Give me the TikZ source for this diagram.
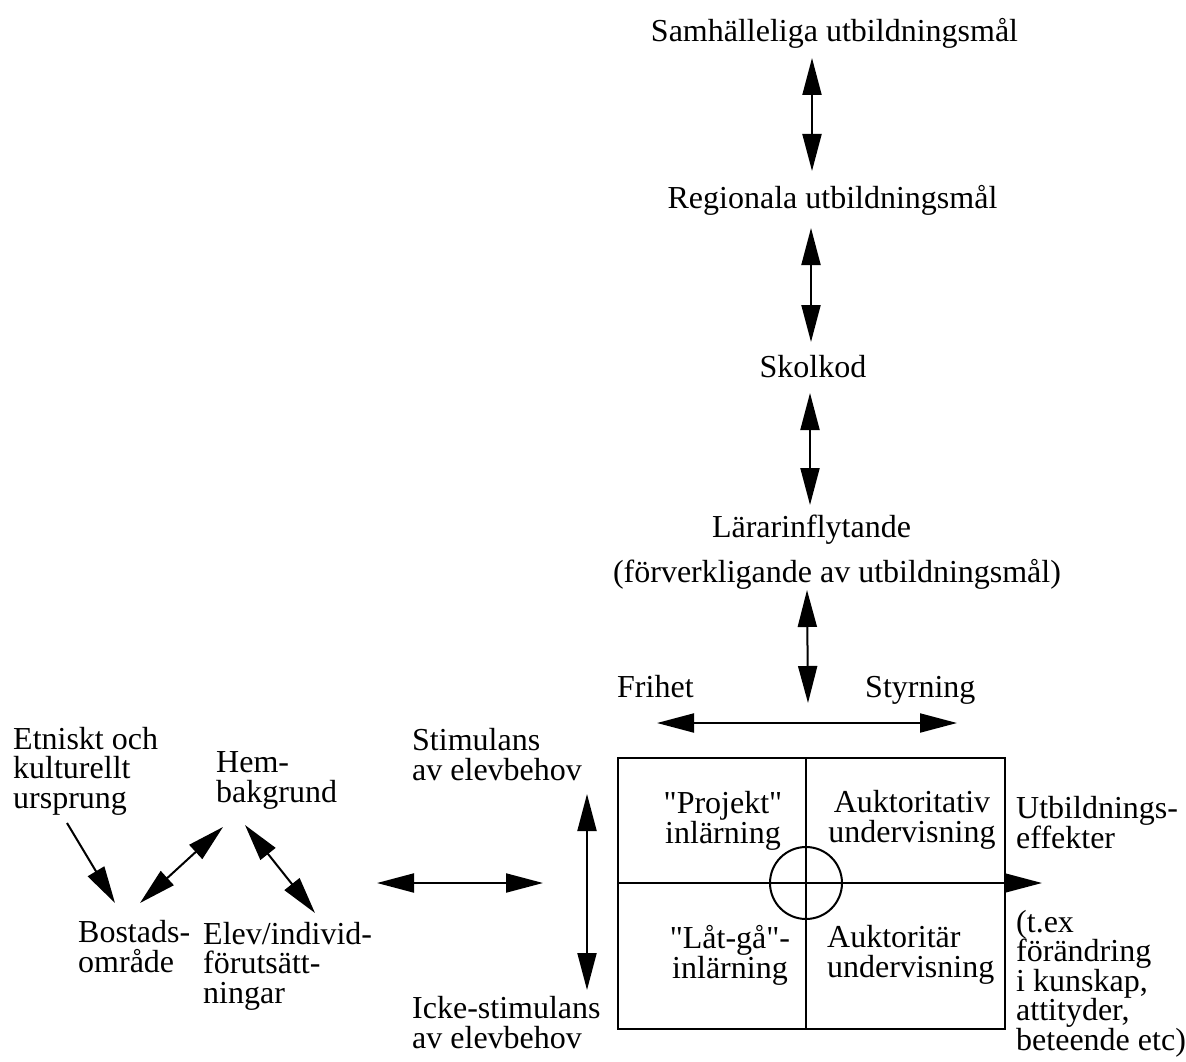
\documentclass[tikz,border=0pt]{standalone}
\usepackage{fontspec}
\newfontfamily\mainf{Liberation Serif}
\usetikzlibrary{arrows.meta}
\begin{document}
\begin{tikzpicture}[x=1pt,y=-1pt,
  txt/.style={inner sep=0pt, font=\mainf\fontsize{32}{29.5}\selectfont},
  arr/.style={-{Triangle[length=37pt,width=19pt]}, line width=2pt},
  darr/.style={{Triangle[length=37pt,width=19pt]}-{Triangle[length=37pt,width=19pt]}, line width=2pt},
  frame/.style={line width=2pt}]
\useasboundingbox (0,0) rectangle (1186,1062);
% top column
\node[txt,anchor=base] (sam) at (834.5,42) {Samhälleliga utbildningsmål};
\node[txt,anchor=base] (reg) at (832.5,208) {Regionala utbildningsmål};
\node[txt,anchor=base] (sko) at (813,377) {Skolkod};
\node[txt,anchor=base] (lar) at (811.5,537) {Lärarinflytande};
\node[txt,anchor=base] (forv) at (837,582) {(förverkligande av utbildningsmål)};
\node[txt,anchor=base west] (fri) at (617,697) {Frihet};
\node[txt,anchor=base west] (sty) at (865,697) {Styrning};
% box
\node[draw, frame, minimum width=387pt, minimum height=271pt, inner sep=0pt, anchor=north west] (box) at (617,757) {};
\coordinate (c) at (806,883);
\draw[frame] (box.north -| c) -- (box.south -| c);
\draw[frame] (box.west |- c) -- (box.east |- c);
\node[draw, frame, circle, minimum size=72pt, inner sep=0pt] (ring) at (c) {};
\coordinate (out) at (1042,883);
\draw[arr] (box.east |- c) -- (out);
% quadrant texts (base = last line)
\node[txt,anchor=base,align=center] (proj) at (723,843) {"Projekt"\\inlärning};
\node[txt,anchor=base,align=center] (auk1) at (912,842) {Auktoritativ\\undervisning};
\node[txt,anchor=base,align=center] (lat) at (730,978) {"Låt-gå"-\\inlärning};
\node[txt,anchor=base west,align=left] (auk2) at (827,977) {Auktoritär\\undervisning};
% right texts
\node[txt,anchor=base west,align=left] (utb) at (1016,848) {Utbildnings-\\effekter};
\node[txt,anchor=base west,align=left] (tex) at (1016,1050) {(t.ex\\förändring\\i kunskap,\\attityder,\\beteende etc)};
% left texts
\node[txt,anchor=base west,align=left] (etn) at (13,808) {Etniskt och\\kulturellt\\ursprung};
\node[txt,anchor=base west,align=left] (hem) at (216,802) {Hem-\\bakgrund};
\node[txt,anchor=base west,align=left] (bos) at (78,972) {Bostads-\\område};
\node[txt,anchor=base west,align=left] (elev) at (203,1003) {Elev/individ-\\förutsätt-\\ningar};
\node[txt,anchor=base west,align=left] (stim) at (412,780) {Stimulans\\av elevbehov};
\node[txt,anchor=base west,align=left] (icke) at (412,1048) {Icke-stimulans\\av elevbehov};
% connectors
\draw[darr] ([xshift=-22.5pt,yshift=-16pt]sam.base) -- ([xshift=-20.5pt,yshift=37pt]reg.base);
\draw[darr] ([xshift=-21.5pt,yshift=-20pt]reg.base) -- ([xshift=-2pt,yshift=35pt]sko.base);
\draw[darr] ([xshift=-3pt,yshift=-16pt]sko.base) -- ([xshift=-1.5pt,yshift=32pt]lar.base);
\draw[darr] ([xshift=-30pt,yshift=-8pt]forv.base) -- ([xshift=-3.5pt,yshift=54pt]box.north);
\draw[darr] ([xshift=40pt,yshift=-26pt]fri.base west) -- ([xshift=92pt,yshift=-26pt]sty.base west);
\draw[arr] ([xshift=54pt,yshift=-15pt]etn.base west) -- ([xshift=37pt,yshift=69pt]bos.base west);
\draw[darr] ([xshift=62pt,yshift=69pt]bos.base west) -- ([xshift=7pt,yshift=-25pt]hem.base west);
\draw[darr] ([xshift=29pt,yshift=-23pt]hem.base west) -- ([xshift=112pt,yshift=90pt]elev.base west);
\draw[darr] ([xshift=174pt,yshift=120pt]elev.base west) -- ([xshift=131pt,yshift=-103pt]stim.base west);
\draw[darr] ([xshift=175pt,yshift=-14pt]stim.base west) -- ([xshift=175pt,yshift=58pt]icke.base west);
\end{tikzpicture}
\end{document}
